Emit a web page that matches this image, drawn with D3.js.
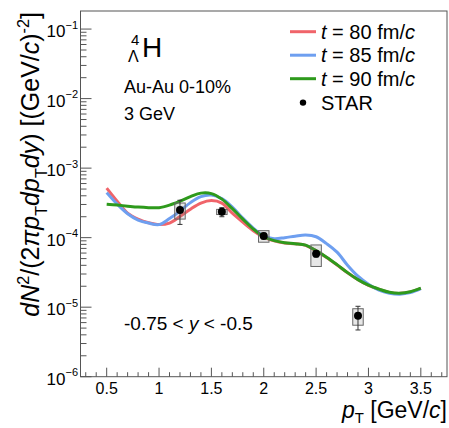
<!DOCTYPE html>
<html>
<head>
<meta charset="utf-8">
<script src="https://cdn.jsdelivr.net/npm/d3@7"></script>
<style>
  body { margin: 0; background: #fff; }
  text { font-family: "Liberation Sans", Arial, Helvetica, sans-serif; fill: #000; }
</style>
</head>
<body>
<svg id="chart" width="449" height="428"></svg>
<script>
// Transverse-momentum grid of the model curves (GeV/c)
const ptGrid = [0.5, 0.6, 0.7, 0.8, 0.9, 1.0, 1.1, 1.2, 1.3, 1.4, 1.5, 1.6, 1.7, 1.8, 1.9, 2.0,
                2.1, 2.2, 2.3, 2.4, 2.5, 2.6, 2.7, 2.8, 2.9, 3.0, 3.1, 3.2, 3.3, 3.4, 3.5];

// Model spectra for three freeze-out times
const spectrum80 = [5.16e-4, 3.35e-4, 2.25e-4, 1.85e-4, 1.64e-4, 1.54e-4, 1.62e-4, 2.01e-4, 2.57e-4, 3.14e-4, 3.41e-4,
                    3.14e-4, 2.25e-4, 1.67e-4, 1.26e-4, 1.02e-4, 9.0e-5, 8.4e-5, 8.15e-5, 7.75e-5, 6.45e-5,
                    5.2e-5, 4.05e-5, 3.12e-5, 2.48e-5, 2.06e-5, 1.81e-5, 1.63e-5, 1.58e-5, 1.66e-5, 1.87e-5];
const spectrum85 = [4.44e-4, 3.03e-4, 2.21e-4, 1.79e-4, 1.62e-4, 1.54e-4, 1.88e-4, 2.41e-4, 3.19e-4, 3.89e-4, 4.09e-4,
                    3.64e-4, 2.75e-4, 1.91e-4, 1.37e-4, 1.05e-4, 9.67e-5, 1.0e-4, 1.05e-4, 1.09e-4, 1.03e-4,
                    8.2e-5, 6.19e-5, 4.02e-5, 2.79e-5, 2.14e-5, 1.76e-5, 1.59e-5, 1.54e-5, 1.62e-5, 1.85e-5];
const spectrum90 = [3.03e-4, 2.94e-4, 2.84e-4, 2.75e-4, 2.70e-4, 2.70e-4, 2.94e-4, 3.35e-4, 3.89e-4, 4.37e-4, 4.30e-4,
                    3.58e-4, 2.61e-4, 1.85e-4, 1.33e-4, 1.03e-4, 9.05e-5, 8.47e-5, 8.2e-5, 7.8e-5, 6.5e-5,
                    5.24e-5, 4.09e-5, 3.14e-5, 2.49e-5, 2.07e-5, 1.82e-5, 1.64e-5, 1.59e-5, 1.67e-5, 1.88e-5];

// STAR measurement
const starPt    = [1.2, 1.6, 2.0, 2.5, 2.9];
const starYield = [2.5e-4, 2.35e-4, 1.06e-4, 5.85e-5, 7.5e-6];
const starStat  = [0.95e-4, 0.35e-4, 0.1e-4, 0.6e-5, 2.8e-6];
const starSys   = [0.65e-4, 0.2e-4, 0.2e-4, 2.0e-5, 2.0e-6];
const starBinHalfWidth = 0.05;

// Axis ticks
const xTickValues = [0.5, 1, 1.5, 2, 2.5, 3, 3.5];
const xTickLabels = ["0.5", "1", "1.5", "2", "2.5", "3", "3.5"];
const yTickExponents = [-6, -5, -4, -3, -2, -1];

const series = [
  { label: "80", values: spectrum80, color: "#f0646a" },
  { label: "85", values: spectrum85, color: "#6e9ff0" },
  { label: "90", values: spectrum90, color: "#2e9a1c" }
];

const svg = d3.select("#chart");
const frame = { left: 80.5, right: 447, top: 11, bottom: 376.7 };

const x = d3.scaleLinear().domain([0.25, 3.75]).range([frame.left, frame.right]);
const y = d3.scaleLog().domain([1e-6, Math.pow(10, -0.74)]).range([frame.bottom, frame.top]);

svg.append("clipPath").attr("id", "plotArea")
  .append("rect")
  .attr("x", frame.left).attr("y", frame.top)
  .attr("width", frame.right - frame.left).attr("height", frame.bottom - frame.top);

// Frame
svg.append("rect")
  .attr("x", frame.left).attr("y", frame.top)
  .attr("width", frame.right - frame.left).attr("height", frame.bottom - frame.top)
  .attr("fill", "none").attr("stroke", "#555").attr("stroke-width", 1);

// X ticks (inward), major every 0.5, minor every 0.1
const xMinor = d3.range(3, 38).map(i => i / 10);
const gx = svg.append("g").attr("stroke", "#555").attr("stroke-width", 1);
xMinor.forEach(v => {
  const major = Math.abs(v * 2 - Math.round(v * 2)) < 1e-6;
  gx.append("line")
    .attr("x1", x(v)).attr("x2", x(v))
    .attr("y1", frame.bottom).attr("y2", frame.bottom - (major ? 9 : 4.5));
});
svg.append("g").selectAll("text").data(xTickValues).join("text")
  .attr("x", d => x(d)).attr("y", 394)
  .attr("text-anchor", "middle").attr("font-size", 16)
  .text((d, i) => xTickLabels[i]);

// Y ticks (inward), decades with 2..9 minors
const gy = svg.append("g").attr("stroke", "#555").attr("stroke-width", 1);
for (let e = -6; e <= -1; e++) {
  for (let m = 1; m <= 9; m++) {
    const v = m * Math.pow(10, e);
    if (v > y.domain()[1]) continue;
    if (e === -1 && m > 1) continue;
    gy.append("line")
      .attr("x1", frame.left).attr("x2", frame.left + (m === 1 ? 11 : 6))
      .attr("y1", y(v)).attr("y2", y(v));
  }
}
const yLabels = svg.append("g").selectAll("text").data(yTickExponents).join("text")
  .attr("x", 78).attr("y", d => y(Math.pow(10, d)) + 8)
  .attr("text-anchor", "end").attr("font-size", 17);
yLabels.append("tspan").text("10");
yLabels.append("tspan").attr("dy", -8.5).attr("font-size", 11).text(d => "\u2212" + Math.abs(d));

// Model curves
const line = d3.line()
  .x(d => x(d[0]))
  .y(d => y(d[1]))
  .curve(d3.curveCatmullRom.alpha(0.5));
const curves = svg.append("g").attr("clip-path", "url(#plotArea)");
series.forEach(s => {
  curves.append("path")
    .datum(ptGrid.map((p, i) => [p, s.values[i]]))
    .attr("d", line)
    .attr("fill", "none")
    .attr("stroke", s.color)
    .attr("stroke-width", 3)
    .attr("stroke-linejoin", "round");
});

// STAR data: systematic boxes, statistical bars, markers
const star = starPt.map((p, i) => ({ p, v: starYield[i], stat: starStat[i], sys: starSys[i] }));
const gs = svg.append("g");
gs.selectAll("rect.sys").data(star).join("rect")
  .attr("class", "sys")
  .attr("x", d => x(d.p - starBinHalfWidth))
  .attr("width", d => x(d.p + starBinHalfWidth) - x(d.p - starBinHalfWidth))
  .attr("y", d => y(d.v + d.sys))
  .attr("height", d => y(d.v - d.sys) - y(d.v + d.sys))
  .attr("fill", "rgba(120,120,120,0.18)")
  .attr("stroke", "#666").attr("stroke-width", 1);
gs.selectAll("line.stat").data(star).join("line")
  .attr("class", "stat")
  .attr("x1", d => x(d.p)).attr("x2", d => x(d.p))
  .attr("y1", d => y(d.v + d.stat)).attr("y2", d => y(d.v - d.stat))
  .attr("stroke", "#333").attr("stroke-width", 1);
["capTop", "capBottom"].forEach((cls, k) => {
  gs.selectAll("line." + cls).data(star).join("line")
    .attr("class", cls)
    .attr("x1", d => x(d.p) - 2.5).attr("x2", d => x(d.p) + 2.5)
    .attr("y1", d => y(k ? d.v - d.stat : d.v + d.stat))
    .attr("y2", d => y(k ? d.v - d.stat : d.v + d.stat))
    .attr("stroke", "#333").attr("stroke-width", 1);
});
gs.selectAll("circle").data(star).join("circle")
  .attr("cx", d => x(d.p)).attr("cy", d => y(d.v))
  .attr("r", 4).attr("fill", "#000");

// Legend
const legend = svg.append("g");
const legendY = [31.7, 55.2, 78.7];
series.forEach((s, i) => {
  legend.append("line")
    .attr("x1", 290).attr("x2", 316)
    .attr("y1", legendY[i]).attr("y2", legendY[i])
    .attr("stroke", s.color).attr("stroke-width", 3);
  const t = legend.append("text")
    .attr("x", 321).attr("y", legendY[i] + 7).attr("font-size", 20);
  t.append("tspan").attr("font-style", "italic").text("t");
  t.append("tspan").text(" = " + s.label + " fm/");
  t.append("tspan").attr("font-style", "italic").text("c");
});
legend.append("circle").attr("cx", 303).attr("cy", 102.6).attr("r", 3.2).attr("fill", "#000");
legend.append("text").attr("x", 321).attr("y", 109.6).attr("font-size", 20).text("STAR");

// Nucleus label: 4 over Lambda, H
svg.append("text").attr("x", 131).attr("y", 45).attr("font-size", 15).text("4");
svg.append("text").attr("x", 128).attr("y", 62).attr("font-size", 16).text("\u039B");
svg.append("text").attr("x", 142).attr("y", 57).attr("font-size", 28).text("H");
svg.append("text").attr("x", 124).attr("y", 93).attr("font-size", 18).text("Au-Au 0-10%");
svg.append("text").attr("x", 124).attr("y", 120).attr("font-size", 18).text("3 GeV");

const rap = svg.append("text").attr("x", 124).attr("y", 330).attr("font-size", 19);
rap.append("tspan").text("-0.75 < ");
rap.append("tspan").attr("font-style", "italic").text("y");
rap.append("tspan").text(" < -0.5");

// Rich text helper: parts are [text, style] with style among "", "i", "sup", "sub"
function richText(sel, parts, size, subShift) {
  let shift = 0;
  parts.forEach(([txt, style]) => {
    const ts = sel.append("tspan").text(txt);
    let target = 0;
    if (style.includes("sup")) target = -0.42 * size;
    if (style.includes("sub")) target = subShift * size;
    ts.attr("dy", target - shift);
    shift = target;
    if (style.includes("sup") || style.includes("sub")) ts.attr("font-size", size * 0.65);
    if (style.includes("i")) ts.attr("font-style", "italic");
  });
}

// Axis titles
const xTitle = svg.append("text").attr("x", 447).attr("y", 418)
  .attr("text-anchor", "end").attr("font-size", 23);
richText(xTitle, [["p", "i"], ["T", "sub"], [" [GeV/", ""], ["c", "i"], ["]", ""]], 23, 0.2);

const yTitle = svg.append("text")
  .attr("transform", "translate(39,12) rotate(-90)")
  .attr("text-anchor", "end").attr("font-size", 25);
richText(yTitle, [["dN", "i"], ["2", "sup"], ["/(2", ""], ["\u03C0p", "i"], ["T", "sub"],
  ["dp", "i"], ["T", "sub"], ["dy", "i"], [") [(GeV/", ""], ["c", "i"], [")", ""],
  ["-2", "sup"], ["]", ""]], 25, 0.32);
</script>
</body>
</html>
